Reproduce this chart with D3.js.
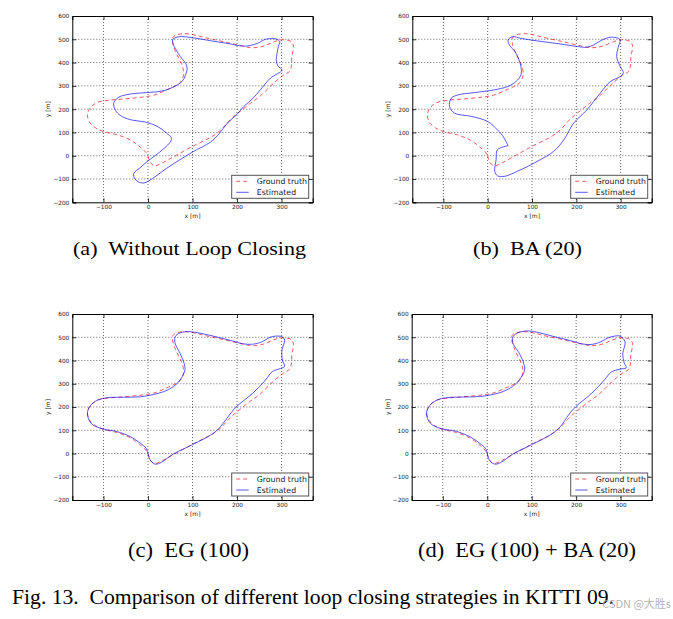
<!DOCTYPE html>
<html>
<head>
<meta charset="utf-8">
<script src="https://cdn.jsdelivr.net/npm/d3@7"></script>
<style>
body { margin: 0; background: #fff; }
</style>
</head>
<body>
<script>
// tick values
var xTicks = [-100, 0, 100, 200, 300];
var yTicks = [-200, -100, 0, 100, 200, 300, 400, 500, 600];
var seriesNames = ["Ground truth", "Estimated"];
var captions = ["(a)  Without Loop Closing", "(b)  BA (20)", "(c)  EG (100)", "(d)  EG (100) + BA (20)"];
var figCaption = "Fig. 13.  Comparison of different loop closing strategies in KITTI 09.";

// trajectories, x/y in metres
var groundTruth = [[0,0],[3,-20],[8,-36],[16,-43],[30,-33],[57,-5],[100,40],[146,85],[165,113],[180,145],[195,172],[210,195],[230,225],[252,256],[282,311],[305,347],[318,362],[322,385],[323,425],[327,470],[322,490],[310,497],[297,497],[280,487],[262,472],[245,465],[230,464],[210,472],[185,483],[160,494],[133,505],[110,516],[92,523],[78,524],[63,518],[56,508],[55,490],[60,455],[70,415],[78,380],[80,347],[73,315],[60,298],[45,285],[13,260],[-20,250],[-60,243],[-90,238],[-115,228],[-130,205],[-136,175],[-130,140],[-118,120],[-99,103],[-69,90],[-39,67],[-18,38],[-5,15],[0,0]];

var estNoLoop = [[0,-22],[-18,-52],[-32,-76],[-30,-98],[-22,-112],[-10,-117],[2,-108],[42,-54],[101,17],[140,58],[160,95],[178,139],[200,178],[215,211],[235,245],[252,282],[275,333],[301,368],[292,385],[288,410],[290,440],[293,470],[296,490],[290,500],[278,503],[264,500],[245,482],[222,471],[200,474],[185,480],[140,494],[95,508],[70,511],[56,500],[56,483],[63,455],[73,425],[85,395],[88,375],[84,345],[78,322],[62,300],[40,282],[18,274],[-12,270],[-45,263],[-67,250],[-77,225],[-73,195],[-62,173],[-40,155],[-5,144],[20,127],[40,100],[53,70],[0,-22]];

var estBA = [[46,43],[22,26],[19,-17],[16,-67],[22,-86],[37,-89],[67,-67],[112,-24],[149,19],[172,69],[194,140],[224,197],[254,269],[277,319],[299,340],[306,357],[299,383],[291,426],[295,469],[299,497],[295,504],[277,509],[258,497],[239,476],[224,466],[202,469],[164,480],[112,493],[75,504],[56,511],[46,497],[49,476],[64,440],[75,383],[75,347],[64,319],[45,297],[15,283],[-30,271],[-67,261],[-82,247],[-86,211],[-75,183],[-37,169],[0,147],[22,111],[30,95],[37,76],[46,43]];

var estEG = [[0,0],[5,-28],[12,-42],[18,-46],[30,-38],[57,-2],[100,38],[146,86],[164,118],[183,166],[198,200],[235,259],[264,316],[279,352],[298,366],[307,375],[302,400],[301,445],[307,488],[301,502],[287,505],[272,498],[257,481],[235,470],[213,472],[190,484],[146,505],[116,518],[94,524],[72,519],[61,502],[61,474],[72,431],[81,388],[83,359],[72,316],[57,287],[35,266],[13,254],[-17,244],[-54,242],[-91,240],[-113,230],[-130,204],[-136,173],[-128,130],[-106,108],[-69,94],[-39,72],[-17,44],[-4,22],[0,0]];

var estEGBA = [[0,0],[4,-26],[11,-41],[19,-46],[32,-37],[58,-2],[100,38],[146,85],[165,117],[183,166],[199,201],[235,259],[263,315],[279,350],[299,363],[313,369],[308,390],[305,430],[310,481],[298,505],[284,504],[270,496],[255,480],[234,469],[212,472],[190,484],[146,505],[116,520],[93,527],[72,521],[58,503],[58,474],[72,431],[82,388],[84,358],[72,316],[57,288],[35,266],[13,254],[-17,245],[-54,243],[-91,240],[-113,230],[-130,205],[-137,172],[-128,130],[-106,108],[-69,95],[-39,72],[-17,44],[-4,22],[0,0]];

var svg = d3.select("body").append("svg")
   .attr("width", 673)
   .attr("height", 619);

var panels = [
   {est: estNoLoop, left: 72.3, right: 312.7, top: 16, bottom: 202.3, cap: captions[0], capX: 73, capW: 233, capY: 255, capSize: 19},
   {est: estBA, left: 412.3, right: 651.7, top: 16, bottom: 202.3, cap: captions[1], capX: 473, capW: 109, capY: 255, capSize: 19},
   {est: estEG, left: 72.3, right: 312.7, top: 314, bottom: 500, cap: captions[2], capX: 128, capW: 121, capY: 557, capSize: 20},
   {est: estEGBA, left: 411.7, right: 651.7, top: 314, bottom: 500, cap: captions[3], capX: 418, capW: 218, capY: 557, capSize: 20}
];

var redCol = "rgba(255,0,0,0.65)";
var blueCol = "rgba(0,0,255,0.65)";

panels.forEach(function(p) {
   drawPanel(p);
});

function drawPanel(p) {
   var x = d3.scaleLinear().domain([-170, 370]).range([p.left, p.right]);
   var y = d3.scaleLinear().domain([-200, 600]).range([p.bottom, p.top]);
   var g = svg.append("g");

   // dotted grid
   g.selectAll(".vgrid").data(xTicks).enter().append("line")
      .attr("x1", function(d) { return x(d) })
      .attr("x2", function(d) { return x(d) })
      .attr("y1", p.top).attr("y2", p.bottom)
      .style("stroke", "#000").style("stroke-width", 0.6)
      .style("stroke-dasharray", "1,2");
   g.selectAll(".hgrid").data(yTicks.slice(1, -1)).enter().append("line")
      .attr("y1", function(d) { return y(d) })
      .attr("y2", function(d) { return y(d) })
      .attr("x1", p.left).attr("x2", p.right)
      .style("stroke", "#000").style("stroke-width", 0.6)
      .style("stroke-dasharray", "1,2");

   var line = d3.line()
      .x(function(d) { return x(d[0]) })
      .y(function(d) { return y(d[1]) })
      .curve(d3.curveCatmullRom.alpha(0.5));

   g.append("path")
      .attr("d", line(groundTruth))
      .style("fill", "none")
      .style("stroke", redCol)
      .style("stroke-width", 1)
      .style("stroke-dasharray", "4,3");
   g.append("path")
      .attr("d", line(p.est))
      .style("fill", "none")
      .style("stroke", blueCol)
      .style("stroke-width", 1);

   // axes, ticks inward on all four sides
   var fmt = d3.format("");
   var bottomAx = g.append("g").attr("transform", "translate(0," + p.bottom + ")")
      .call(d3.axisBottom(x).tickValues(xTicks).tickSize(-4).tickPadding(3).tickFormat(fmt));
   var topAx = g.append("g").attr("transform", "translate(0," + p.top + ")")
      .call(d3.axisTop(x).tickValues(xTicks).tickSize(-4).tickFormat(""));
   var leftAx = g.append("g").attr("transform", "translate(" + p.left + ",0)")
      .call(d3.axisLeft(y).tickValues(yTicks).tickSize(-4).tickPadding(3).tickFormat(fmt));
   var rightAx = g.append("g").attr("transform", "translate(" + p.right + ",0)")
      .call(d3.axisRight(y).tickValues(yTicks).tickSize(-4).tickFormat(""));
   [bottomAx, topAx, leftAx, rightAx].forEach(function(a) {
      a.select(".domain").style("stroke", "#000").style("stroke-width", 1);
      a.selectAll(".tick line").style("stroke", "#000").style("stroke-width", 0.8);
      a.selectAll("text").style("font-family", "DejaVu Sans").style("font-size", "5.8px").style("fill", "#222");
   });

   var cx = (p.left + p.right) / 2;
   g.append("text")
      .attr("x", cx).attr("y", p.bottom + 15.5)
      .attr("text-anchor", "middle")
      .style("font-family", "DejaVu Sans").style("font-size", "6px").style("fill", "#222")
      .text("x [m]");
   g.append("text")
      .attr("transform", "translate(" + (p.left - 22) + "," + ((p.top + p.bottom) / 2) + ") rotate(-90)")
      .attr("text-anchor", "middle")
      .style("font-family", "DejaVu Sans").style("font-size", "6px").style("fill", "#222")
      .text("y [m]");

   // legend box
   var lx = p.right - 81, ly = p.bottom - 27;
   var leg = g.append("g").attr("transform", "translate(" + lx + "," + ly + ")");
   leg.append("rect")
      .attr("width", 77).attr("height", 23)
      .style("fill", "#fff").style("stroke", "#555").style("stroke-width", 1);
   leg.selectAll(".legline").data(seriesNames).enter().append("line")
      .attr("x1", 4.5).attr("x2", 17)
      .attr("y1", function(d, i) { return 6 + i * 11 })
      .attr("y2", function(d, i) { return 6 + i * 11 })
      .style("stroke", function(d, i) { return i == 0 ? redCol : blueCol })
      .style("stroke-width", 1)
      .style("stroke-dasharray", function(d, i) { return i == 0 ? "4,3" : null });
   leg.selectAll(".legtext").data(seriesNames).enter().append("text")
      .attr("x", 25)
      .attr("y", function(d, i) { return 8.8 + i * 11 })
      .style("font-family", "DejaVu Sans").style("font-size", "7.8px").style("fill", "#222")
      .text(function(d) { return d });

   // sub caption
   svg.append("text")
      .attr("x", p.capX).attr("y", p.capY)
      .attr("textLength", p.capW).attr("lengthAdjust", "spacingAndGlyphs")
      .style("white-space", "pre")
      .style("font-family", "Liberation Serif").style("font-size", p.capSize + "px").style("fill", "#000")
      .text(p.cap);
}

svg.append("text")
   .attr("x", 12).attr("y", 604)
   .attr("textLength", 602).attr("lengthAdjust", "spacingAndGlyphs")
   .style("white-space", "pre")
   .style("font-family", "Liberation Serif").style("font-size", "20px").style("fill", "#000")
   .text(figCaption);

svg.append("text")
   .attr("x", 671).attr("y", 608)
   .attr("text-anchor", "end")
   .style("font-family", "Noto Sans CJK SC").style("font-size", "11px").style("fill", "rgba(160,160,160,0.8)")
   .text("CSDN @大胜s");
</script>
</body>
</html>
